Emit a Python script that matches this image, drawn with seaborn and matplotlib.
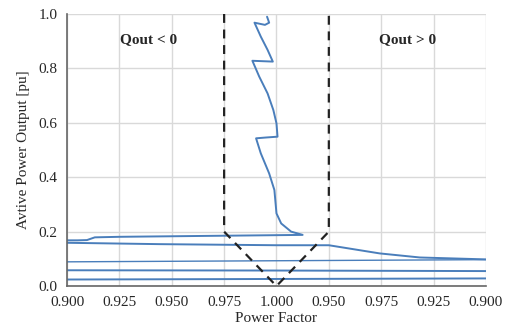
import numpy as np
import pandas as pd
import matplotlib
matplotlib.use("Agg")
import matplotlib.pyplot as plt
import seaborn as sns

sns.set_style("whitegrid")
plt.rcParams['font.family'] = ['Liberation Serif', 'DejaVu Serif']

# x is the tick position (0 .. 8), labelled with the power factor
tick_pos = [0, 1, 2, 3, 4, 5, 6, 7, 8]
tick_labels = ['0.900', '0.925', '0.950', '0.975', '1.000', '0.950', '0.975', '0.925', '0.900']
y_ticks = [0.0, 0.2, 0.4, 0.6, 0.8, 1.0]

# wiggly curve near unity power factor, which runs into the upper flat line
curve1_x = [3.82, 3.86, 3.78, 3.58, 3.70, 3.83, 3.93, 3.54, 3.67, 3.83, 3.94, 4.00,
            4.02, 3.80, 3.61, 3.70, 3.86, 3.96, 4.00, 4.09, 4.28, 4.50,
            2.50, 1.00, 0.53, 0.38, 0.20, 0.00]
curve1_y = [0.990, 0.968, 0.960, 0.968, 0.917, 0.868, 0.825, 0.828, 0.770, 0.708, 0.647, 0.598,
            0.549, 0.546, 0.543, 0.488, 0.414, 0.353, 0.267, 0.230, 0.200, 0.188,
            0.184, 0.181, 0.179, 0.169, 0.168, 0.168]

curve2_x = [0.0, 1.77, 4.0, 5.0, 5.97, 6.74, 8.0]
curve2_y = [0.159, 0.154, 0.150, 0.150, 0.120, 0.105, 0.098]

curve3_x = [0.0, 4.0, 8.0]
curve3_y = [0.089, 0.093, 0.097]

curve4_x = [0.0, 4.0, 8.0]
curve4_y = [0.058, 0.057, 0.055]

curve5_x = [0.0, 4.0, 8.0]
curve5_y = [0.024, 0.026, 0.028]

# limit lines (dashed)
lim_x = [3, 3, 4, 5, 5]
lim_y = [1.0, 0.2, 0.0, 0.2, 1.0]

blue = '#4a7ebb'

fig = plt.figure(figsize=(5.12, 3.33), dpi=100)
ax = fig.add_axes([0.131, 0.141, 0.818, 0.817])

curves = [(curve1_x, curve1_y, 1.4), (curve2_x, curve2_y, 1.4), (curve3_x, curve3_y, 1.0),
          (curve4_x, curve4_y, 1.4), (curve5_x, curve5_y, 1.4)]
for cx, cy, lw in curves:
    df = pd.DataFrame({'x': cx, 'y': cy})
    sns.lineplot(data=df, x='x', y='y', sort=False, estimator=None, color=blue, lw=lw, ax=ax)

ax.plot(lim_x, lim_y, color='#222222', lw=1.6, ls=(0, (4, 3)))

ax.text(1.55, 0.905, 'Qout < 0', fontsize=11, fontweight='bold', ha='center', va='center')
ax.text(6.5, 0.905, 'Qout > 0', fontsize=11, fontweight='bold', ha='center', va='center')

ax.set_xlim(0, 8)
ax.set_ylim(0, 1.0)
ax.set_xticks(tick_pos)
ax.set_xticklabels(tick_labels)
ax.set_yticks(y_ticks)
ax.set_yticklabels([f'{v:.1f}' for v in y_ticks])
ax.tick_params(labelsize=11, length=4, direction='out', color='#555555', width=1, pad=3)
ax.grid(True, color='#d9d9d9', lw=1)
for s in ['top', 'right']:
    ax.spines[s].set_visible(False)
for s in ['left', 'bottom']:
    ax.spines[s].set_color('#666666')
    ax.spines[s].set_linewidth(1.2)

ax.set_xlabel('Power Factor', fontsize=11, labelpad=2)
ax.set_ylabel('Avtive Power Output [pu]', fontsize=11, labelpad=6)

fig.savefig('out.png', dpi=100)
